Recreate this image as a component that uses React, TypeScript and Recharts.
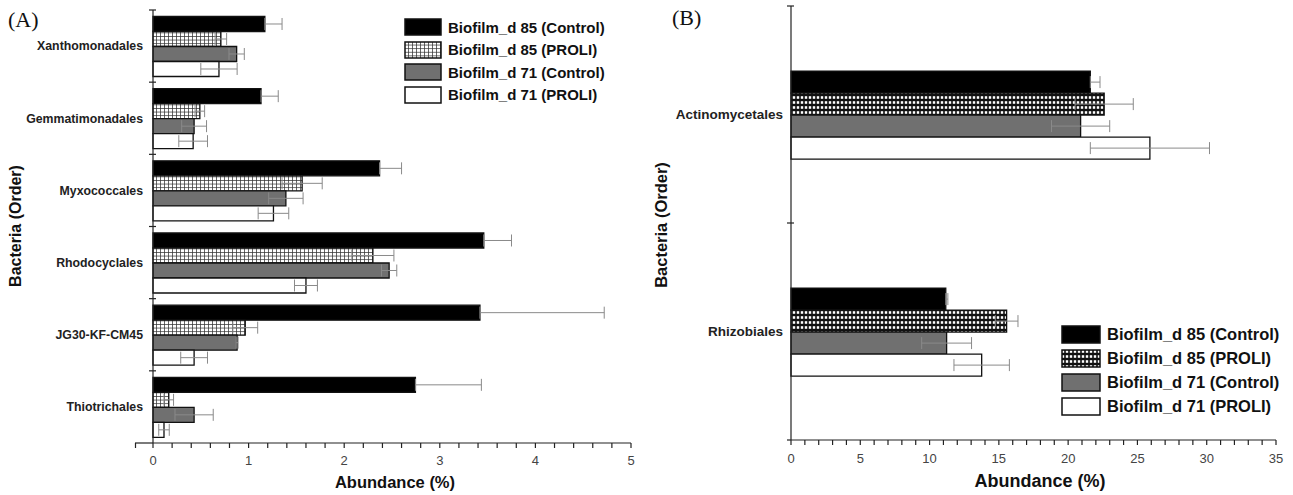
import React from 'react';
import { BarChart, Bar, XAxis, YAxis, ErrorBar, Legend } from 'recharts';

// Panel A: orders and abundance (%)
const ordersA = ['Xanthomonadales', 'Gemmatimonadales', 'Myxococcales', 'Rhodocyclales', 'JG30-KF-CM45', 'Thiotrichales'];
const d85CtrlA = [1.17, 1.13, 2.37, 3.46, 3.42, 2.745];
const d85CtrlErrA = [0.18, 0.18, 0.23, 0.29, 1.3, 0.69];
const d85ProliA = [0.71, 0.49, 1.56, 2.3, 0.965, 0.165];
const d85ProliErrA = [0.06, 0.05, 0.21, 0.22, 0.13, 0.05];
const d71CtrlA = [0.875, 0.43, 1.39, 2.47, 0.88, 0.43];
const d71CtrlErrA = [0.08, 0.13, 0.18, 0.08, 0.01, 0.2];
const d71ProliA = [0.69, 0.42, 1.26, 1.6, 0.43, 0.115];
const d71ProliErrA = [0.19, 0.15, 0.16, 0.12, 0.14, 0.055];

// Panel B
const ordersB = ['Actinomycetales', 'Rhizobiales'];
const d85CtrlB = [21.6, 11.17];
const d85CtrlErrB = [0.7, 0.15];
const d85ProliB = [22.6, 15.56];
const d85ProliErrB = [2.1, 0.82];
const d71CtrlB = [20.9, 11.23];
const d71CtrlErrB = [2.1, 1.8];
const d71ProliB = [25.9, 13.76];
const d71ProliErrB = [4.3, 2.0];

const seriesNames = ['Biofilm_d 85 (Control)', 'Biofilm_d 85 (PROLI)', 'Biofilm_d 71 (Control)', 'Biofilm_d 71 (PROLI)'];

const xTicksA = [0, 0.2, 0.4, 0.6, 0.8, 1, 1.2, 1.4, 1.6, 1.8, 2, 2.2, 2.4, 2.6, 2.8, 3, 3.2, 3.4, 3.6, 3.8, 4, 4.2, 4.4, 4.6, 4.8, 5];
const xTicksB = [0, 1, 2, 3, 4, 5, 6, 7, 8, 9, 10, 11, 12, 13, 14, 15, 16, 17, 18, 19, 20, 21, 22, 23, 24, 25, 26, 27, 28, 29, 30, 31, 32, 33, 34, 35];

// black bars only show the upper error (the lower half is hidden in the bar)
const dataA = ordersA.map((order, i) => ({
  order,
  c85: d85CtrlA[i], c85e: [0, d85CtrlErrA[i]],
  p85: d85ProliA[i], p85e: d85ProliErrA[i],
  c71: d71CtrlA[i], c71e: d71CtrlErrA[i],
  p71: d71ProliA[i], p71e: d71ProliErrA[i],
}));

const dataB = ordersB.map((order, i) => ({
  order,
  c85: d85CtrlB[i], c85e: [0, d85CtrlErrB[i]],
  p85: d85ProliB[i], p85e: d85ProliErrB[i],
  c71: d71CtrlB[i], c71e: d71CtrlErrB[i],
  p71: d71ProliB[i], p71e: d71ProliErrB[i],
}));

const FONT = '"Liberation Sans", Arial, sans-serif';
const ERR = '#8a8a8a';
const AXIS = '#222';

function GridPatternA({ id }: { id: string }) {
  return (
    <pattern id={id} patternUnits="userSpaceOnUse" width={4} height={3.6}>
      <rect width={4} height={3.6} fill="#fff" />
      <path d="M0 0.4 L4 0.4 M0.4 0 L0.4 3.6" stroke="#333" strokeWidth={0.8} />
    </pattern>
  );
}

function GridPatternB({ id }: { id: string }) {
  return (
    <pattern id={id} patternUnits="userSpaceOnUse" width={4} height={5}>
      <rect width={4} height={5} fill="#111" />
      <rect x={0.8} y={1.2} width={2.4} height={2.6} fill="#fff" />
    </pattern>
  );
}

// category label plus the small ticks between categories; the x axis line
// runs a little past the origin in the original figure
function makeCatTick(gap: number, fontSize: number, stub: number) {
  return (props: any) => {
    const { x, y, payload, index, visibleTicksCount } = props;
    const half = payload.offset || 0;
    const ax = x + gap;
    const last = index === visibleTicksCount - 1;
    return (
      <g>
        <line x1={ax - 4} x2={ax + 3} y1={y - half} y2={y - half} stroke={AXIS} strokeWidth={1.2} />
        {last && (
          <g>
            <line x1={ax - stub} x2={ax} y1={y + half} y2={y + half} stroke={AXIS} strokeWidth={1.2} />
            {stub > 10 && (
              <line x1={ax - stub + 0.5} x2={ax - stub + 0.5} y1={y + half} y2={y + half + 5} stroke={AXIS} strokeWidth={1.2} />
            )}
          </g>
        )}
        <text x={x} y={y} dy="0.355em" textAnchor="end" fontFamily={FONT} fontWeight="bold" fontSize={fontSize} fill="#222">
          {payload.value}
        </text>
      </g>
    );
  };
}

function makeLegend(swW: number, swH: number, rowH: number, fontSize: number, patId: string, big: boolean) {
  const fills = ['#000', `url(#${patId})`, '#707070', '#fff'];
  return () => (
    <div style={{ fontFamily: FONT, fontWeight: 'bold', fontSize, color: '#111' }}>
      {seriesNames.map((name, i) => (
        <div key={name} style={{ height: rowH, display: 'flex', alignItems: 'center' }}>
          <svg width={swW} height={swH} style={{ marginRight: 6 }}>
            <defs>{big ? <GridPatternB id={patId} /> : <GridPatternA id={patId} />}</defs>
            <rect x={1} y={1} width={swW - 2} height={swH - 2} fill={fills[i]} stroke="#111" strokeWidth={1.5} />
          </svg>
          <span style={{ whiteSpace: 'nowrap' }}>{name}</span>
        </div>
      ))}
    </div>
  );
}

const rot: React.CSSProperties = {
  position: 'absolute',
  fontFamily: FONT,
  fontWeight: 'bold',
  color: '#111',
  whiteSpace: 'nowrap',
  transform: 'translate(-50%, -50%) rotate(-90deg)',
};

export default function App() {
  const barStroke = { stroke: '#111', strokeWidth: 1.3 };
  return (
    <div style={{ position: 'absolute', left: 0, top: 0, width: 1293, height: 495, background: '#fff' }}>
      <div style={{ position: 'absolute', left: 0, top: 0 }}>
        <BarChart width={640} height={495} data={dataA} layout="vertical" barGap={0} barCategoryGap="9%"
          margin={{ top: 10, right: 9, bottom: 22, left: 0 }}>
          <defs>
            <GridPatternA id="gridA" />
          </defs>
          <YAxis type="category" dataKey="order" width={153} stroke={AXIS} strokeWidth={1.2} tickLine={false}
            tickSize={0} tickMargin={10} interval={0} tick={makeCatTick(10, 12.3, 18)} />
          <XAxis type="number" domain={[0, 5]} ticks={xTicksA} height={30} interval={0}
            tickFormatter={(v: number) => (Number.isInteger(v) ? String(v) : '')}
            tickSize={5} tickMargin={8} stroke={AXIS} strokeWidth={1.2}
            tick={{ fontFamily: FONT, fontSize: 13, fill: '#444' }} />
          <Bar dataKey="c85" fill="#000" {...barStroke} isAnimationActive={false}>
            <ErrorBar dataKey="c85e" direction="x" width={6} stroke={ERR} strokeWidth={1} />
          </Bar>
          <Bar dataKey="p85" fill="url(#gridA)" {...barStroke} isAnimationActive={false}>
            <ErrorBar dataKey="p85e" direction="x" width={6} stroke={ERR} strokeWidth={1} />
          </Bar>
          <Bar dataKey="c71" fill="#707070" {...barStroke} isAnimationActive={false}>
            <ErrorBar dataKey="c71e" direction="x" width={6} stroke={ERR} strokeWidth={1} />
          </Bar>
          <Bar dataKey="p71" fill="#fff" {...barStroke} isAnimationActive={false}>
            <ErrorBar dataKey="p71e" direction="x" width={6} stroke={ERR} strokeWidth={1} />
          </Bar>
          <Legend layout="horizontal" verticalAlign="middle" align="center"
            wrapperStyle={{ left: 404, top: 16, width: 'auto' }}
            content={makeLegend(38, 18, 22.5, 15, 'legA', false)} />
        </BarChart>
      </div>

      <div style={{ position: 'absolute', left: 640, top: 0 }}>
        <BarChart width={653} height={495} data={dataB} layout="vertical" barGap={0} barCategoryGap="30%"
          margin={{ top: 6, right: 17, bottom: 25, left: 0 }}>
          <defs>
            <GridPatternB id="gridB" />
          </defs>
          <YAxis type="category" dataKey="order" width={151} stroke={AXIS} strokeWidth={1.2} tickLine={false}
            tickSize={0} tickMargin={8} interval={0} tick={makeCatTick(8, 13.5, 4)} />
          <XAxis type="number" domain={[0, 35]} ticks={xTicksB} height={30} interval={0}
            tickFormatter={(v: number) => (v % 5 === 0 ? String(v) : '')}
            tickSize={5} tickMargin={9} stroke={AXIS} strokeWidth={1.2}
            tick={{ fontFamily: FONT, fontSize: 13, fill: '#444' }} />
          <Bar dataKey="c85" fill="#000" {...barStroke} isAnimationActive={false}>
            <ErrorBar dataKey="c85e" direction="x" width={6} stroke={ERR} strokeWidth={1} />
          </Bar>
          <Bar dataKey="p85" fill="url(#gridB)" {...barStroke} isAnimationActive={false}>
            <ErrorBar dataKey="p85e" direction="x" width={6} stroke={ERR} strokeWidth={1} />
          </Bar>
          <Bar dataKey="c71" fill="#707070" {...barStroke} isAnimationActive={false}>
            <ErrorBar dataKey="c71e" direction="x" width={6} stroke={ERR} strokeWidth={1} />
          </Bar>
          <Bar dataKey="p71" fill="#fff" {...barStroke} isAnimationActive={false}>
            <ErrorBar dataKey="p71e" direction="x" width={6} stroke={ERR} strokeWidth={1} />
          </Bar>
          <Legend layout="horizontal" verticalAlign="middle" align="center"
            wrapperStyle={{ left: 421, top: 322, width: 'auto' }}
            content={makeLegend(40, 19, 24, 16.5, 'legB', true)} />
        </BarChart>
      </div>

      <div style={{ position: 'absolute', left: 8, top: 7, fontFamily: '"Liberation Serif", serif', fontSize: 22, color: '#111' }}>(A)</div>
      <div style={{ position: 'absolute', left: 672, top: 5, fontFamily: '"Liberation Serif", serif', fontSize: 22, color: '#111' }}>(B)</div>

      <div style={{ position: 'absolute', left: 395, top: 482, transform: 'translate(-50%, -50%)', fontFamily: FONT, fontWeight: 'bold', fontSize: 16.5, color: '#111', whiteSpace: 'nowrap' }}>Abundance (%)</div>
      <div style={{ position: 'absolute', left: 1040, top: 481, transform: 'translate(-50%, -50%)', fontFamily: FONT, fontWeight: 'bold', fontSize: 18, color: '#111', whiteSpace: 'nowrap' }}>Abundance (%)</div>

      <div style={{ ...rot, left: 16, top: 226, fontSize: 16 }}>Bacteria (Order)</div>
      <div style={{ ...rot, left: 661, top: 225, fontSize: 16.5 }}>Bacteria (Order)</div>
    </div>
  );
}
